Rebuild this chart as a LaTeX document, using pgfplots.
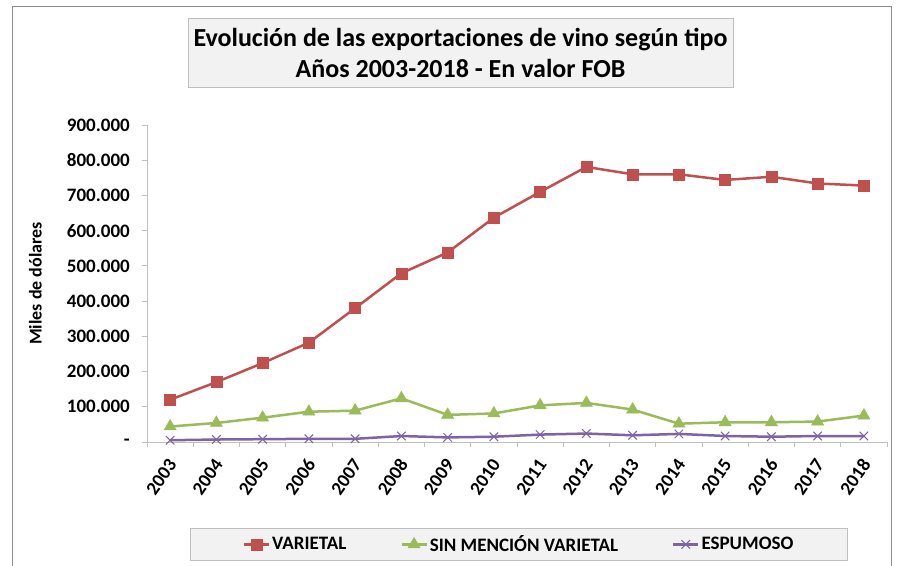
\documentclass[border=0pt]{standalone}
\usepackage{pgfplots}
\pgfplotsset{compat=1.18}
\usepackage{fontspec}
\setmainfont{Carlito}
\definecolor{cRed}{HTML}{C0504D}
\definecolor{cGreen}{HTML}{9BBB59}
\definecolor{cPurple}{HTML}{8064A2}
\definecolor{cBox}{HTML}{F2F2F2}
\definecolor{cEdge}{HTML}{BFBFBF}
\definecolor{cFrame}{HTML}{8C8C8C}
\begin{document}
\begin{tikzpicture}[x=1bp,y=1bp]
\useasboundingbox (0,0) rectangle (899,566);
\fill[white] (0,0) rectangle (899,566);
\draw[cFrame, line width=1bp] (12,-3) -- (12,559) -- (891,559) -- (891,-3);
\draw[cEdge, fill=cBox, line width=0.8bp] (188,479) rectangle (733,548);
\node[align=center, font=\fontsize{26bp}{31bp}\selectfont\bfseries] at (460.5,513.5)
  {Evolución de las exportaciones de vino según tipo\\Años 2003-2018 - En valor FOB};
\begin{axis}[
  at={(147bp,124bp)}, anchor=south west,
  scale only axis, width=740bp, height=317bp,
  xmin=-0.5, xmax=15.5, ymin=0, ymax=900,
  axis x line*=bottom, axis y line*=left,
  axis line style={draw=cEdge, line width=0.8bp, -},
  xtick={0,...,15},
  xticklabels={2003,2004,2005,2006,2007,2008,2009,2010,2011,2012,2013,2014,2015,2016,2017,2018},
  minor xtick={-0.5,0.5,...,15.5},
  major x tick style={draw=none},
  minor x tick style={draw=cEdge, line width=0.8bp},
  minor tick length=5bp,
  ytick={0,100,...,900},
  yticklabels={-,100.000,200.000,300.000,400.000,500.000,600.000,700.000,800.000,900.000},
  y tick style={draw=cEdge, line width=0.8bp},
  major tick length=5bp,
  tick align=outside,
  xticklabel style={xshift=3bp, yshift=-13bp, rotate=55, anchor=east, font=\fontsize{19bp}{20bp}\selectfont\bfseries, inner sep=1bp},
  yticklabel style={font=\fontsize{19bp}{20bp}\selectfont\bfseries, inner sep=2bp, xshift=-10bp},
  ylabel={Miles de dólares},
  ylabel style={at={(axis description cs:-0.151,0.5)}, anchor=center, font=\fontsize{18bp}{20bp}\selectfont\bfseries},
  legend columns=3,
  legend style={at={(axis description cs:0.5027,-0.323)}, anchor=center,
    fill=cBox, draw=cEdge, line width=0.8bp,
    font=\fontsize{19bp}{21bp}\selectfont\bfseries,
    inner xsep=52bp, inner ysep=5bp,
    /tikz/every even column/.append style={column sep=52bp}},
  legend image code/.code={\draw[mark repeat=2,mark phase=2,#1] plot coordinates {(0bp,0bp) (12.5bp,0bp) (25bp,0bp)};},
  clip=false,
]
\addplot[cRed, line width=2.5bp, mark=square*, mark size=5.5bp, mark options={solid, fill=cRed, draw=cRed, line width=0.5bp}]
 coordinates {(0,120) (1,170) (2,224) (3,282) (4,380) (5,479) (6,538) (7,637) (8,710) (9,781) (10,760) (11,760) (12,744) (13,753) (14,734) (15,728)};
\addlegendentry{VARIETAL}
\addplot[cGreen, line width=2.5bp, mark=triangle*, mark size=7bp, mark options={solid, fill=cGreen, draw=cGreen, line width=0.5bp}]
 coordinates {(0,44) (1,54) (2,69) (3,86) (4,89) (5,124) (6,77) (7,81) (8,104) (9,111) (10,92) (11,52) (12,56) (13,56) (14,58) (15,75)};
\addlegendentry{SIN MENCIÓN VARIETAL}
\addplot[cPurple, line width=2.5bp, mark=x, mark size=6bp, mark options={solid, draw=cPurple, line width=1bp}]
 coordinates {(0,5) (1,7) (2,8) (3,9) (4,9) (5,17) (6,13) (7,15) (8,21) (9,24) (10,19) (11,23) (12,17) (13,15) (14,17) (15,17)};
\addlegendentry{ESPUMOSO}
\end{axis}
\end{tikzpicture}
\end{document}
